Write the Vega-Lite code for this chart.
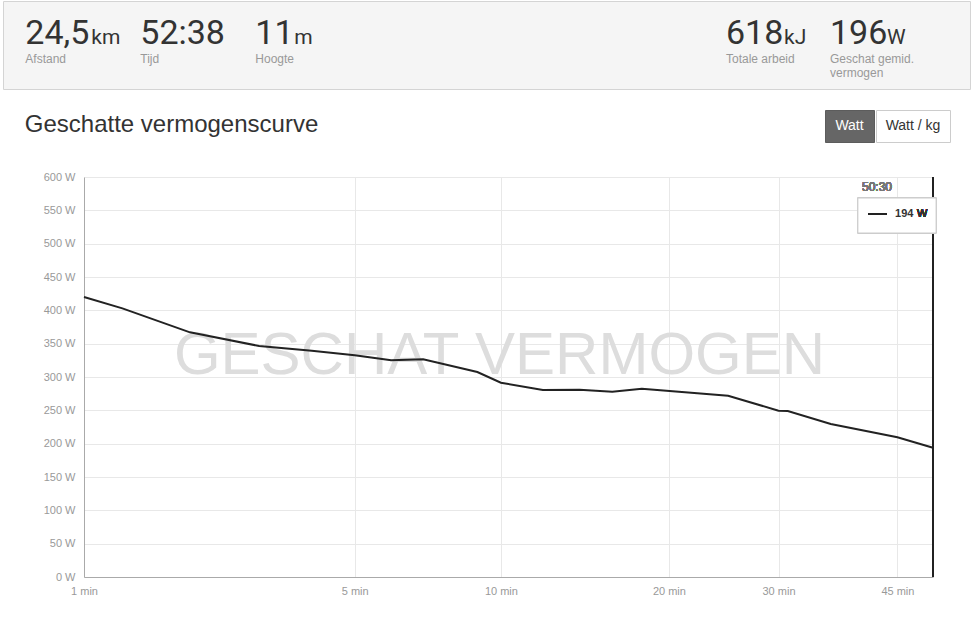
{
  "$schema": "https://vega.github.io/schema/vega-lite/v6.json",
  "padding": {"left": 2, "top": 0, "right": 0, "bottom": 0},
  "background": "#ffffff",
  "spacing": 19,
  "config": {
    "font": "Liberation Sans",
    "view": {"stroke": null},
    "text": {"font": "Liberation Sans"}
  },
  "vconcat": [
    {
      "width": 967,
      "height": 88,
      "view": {"fill": "#f5f5f5", "stroke": "#d4d4d4"},
      "data": {
        "values": [
          {"label": "Afstand", "lines": ["Afstand"], "value": "24,5", "unit": "km"},
          {"label": "Tijd", "lines": ["Tijd"], "value": "52:38", "unit": ""},
          {"label": "Hoogte", "lines": ["Hoogte"], "value": "11", "unit": "m"},
          {"label": "Totale arbeid", "lines": ["Totale arbeid"], "value": "618", "unit": "kJ"},
          {"label": "Geschat gemid. vermogen", "lines": ["Geschat gemid.", "vermogen"], "value": "196", "unit": "W"}
        ]
      },
      "resolve": {"scale": {"x": "independent"}},
      "layer": [
        {
          "transform": [{"filter": {"field": "label", "oneOf": ["Afstand", "Tijd", "Hoogte"]}}],
          "mark": {"type": "text", "align": "left", "baseline": "alphabetic", "font": "Roboto", "fontSize": 34, "color": "#333333", "dy": -1},
          "encoding": {
            "x": {"field": "label", "type": "nominal", "axis": null, "scale": {"type": "point", "domain": ["Afstand", "Tijd", "Hoogte", "l4", "l5", "l6", "l7", "l8"], "padding": 0.7043, "align": 0.13765}},
            "text": {"field": "value"}
          }
        },
        {
          "transform": [{"filter": {"field": "label", "oneOf": ["Afstand", "Tijd", "Hoogte"]}}],
          "mark": {"type": "text", "align": "left", "baseline": "alphabetic", "fontSize": 12, "color": "#999999", "dy": 18, "lineHeight": 14},
          "encoding": {
            "x": {"field": "label", "type": "nominal", "axis": null, "scale": {"type": "point", "domain": ["Afstand", "Tijd", "Hoogte", "l4", "l5", "l6", "l7", "l8"], "padding": 0.7043, "align": 0.13765}},
            "text": {"field": "lines"}
          }
        },
        {
          "transform": [{"filter": {"field": "label", "oneOf": ["Totale arbeid", "Geschat gemid. vermogen"]}}],
          "mark": {"type": "text", "align": "left", "baseline": "alphabetic", "font": "Roboto", "fontSize": 34, "color": "#333333", "dy": -1},
          "encoding": {
            "x": {"field": "label", "type": "nominal", "axis": null, "scale": {"type": "point", "domain": ["r1", "r2", "r3", "r4", "r5", "r6", "Totale arbeid", "Geschat gemid. vermogen", "r9"], "padding": 0.649, "align": 0.7333}},
            "text": {"field": "value"}
          }
        },
        {
          "transform": [{"filter": {"field": "label", "oneOf": ["Totale arbeid", "Geschat gemid. vermogen"]}}],
          "mark": {"type": "text", "align": "left", "baseline": "alphabetic", "fontSize": 12, "color": "#999999", "dy": 18, "lineHeight": 14},
          "encoding": {
            "x": {"field": "label", "type": "nominal", "axis": null, "scale": {"type": "point", "domain": ["r1", "r2", "r3", "r4", "r5", "r6", "Totale arbeid", "Geschat gemid. vermogen", "r9"], "padding": 0.649, "align": 0.7333}},
            "text": {"field": "lines"}
          }
        },
        {
          "transform": [{"filter": {"field": "label", "equal": "Afstand"}}],
          "mark": {"type": "text", "align": "left", "baseline": "alphabetic", "font": "Roboto", "fontSize": 21, "color": "#333333", "dx": 66, "dy": -1},
          "encoding": {
            "x": {"field": "label", "type": "nominal", "axis": null, "scale": {"type": "point", "domain": ["Afstand", "Tijd", "Hoogte", "l4", "l5", "l6", "l7", "l8"], "padding": 0.7043, "align": 0.13765}},
            "text": {"field": "unit"}
          }
        },
        {
          "transform": [{"filter": {"field": "label", "equal": "Hoogte"}}],
          "mark": {"type": "text", "align": "left", "baseline": "alphabetic", "font": "Roboto", "fontSize": 21, "color": "#333333", "dx": 39, "dy": -1},
          "encoding": {
            "x": {"field": "label", "type": "nominal", "axis": null, "scale": {"type": "point", "domain": ["Afstand", "Tijd", "Hoogte", "l4", "l5", "l6", "l7", "l8"], "padding": 0.7043, "align": 0.13765}},
            "text": {"field": "unit"}
          }
        },
        {
          "transform": [{"filter": {"field": "label", "equal": "Totale arbeid"}}],
          "mark": {"type": "text", "align": "left", "baseline": "alphabetic", "font": "Roboto", "fontSize": 21, "color": "#333333", "dx": 58, "dy": -1},
          "encoding": {
            "x": {"field": "label", "type": "nominal", "axis": null, "scale": {"type": "point", "domain": ["r1", "r2", "r3", "r4", "r5", "r6", "Totale arbeid", "Geschat gemid. vermogen", "r9"], "padding": 0.649, "align": 0.7333}},
            "text": {"field": "unit"}
          }
        },
        {
          "transform": [{"filter": {"field": "label", "equal": "Geschat gemid. vermogen"}}],
          "mark": {"type": "text", "align": "left", "baseline": "alphabetic", "font": "Roboto", "fontSize": 21, "color": "#333333", "dx": 57, "dy": -1},
          "encoding": {
            "x": {"field": "label", "type": "nominal", "axis": null, "scale": {"type": "point", "domain": ["r1", "r2", "r3", "r4", "r5", "r6", "Totale arbeid", "Geschat gemid. vermogen", "r9"], "padding": 0.649, "align": 0.7333}},
            "text": {"field": "unit"}
          }
        }
      ]
    },
    {
      "spacing": 484,
      "hconcat": [
        {
          "width": 337,
          "height": 42,
          "data": {"values": [{"title": "Geschatte vermogenscurve"}]},
          "mark": {"type": "text", "fontSize": 24, "color": "#333333", "baseline": "alphabetic", "dy": 1},
          "encoding": {"text": {"field": "title"}}
        },
        {
          "spacing": 0,
          "hconcat": [
            {
              "width": 49,
              "height": 32,
              "view": {"fill": "#666666", "stroke": "#5c5c5c"},
              "data": {"values": [{"button": "Watt"}]},
              "mark": {"type": "text", "fontSize": 14, "color": "#ffffff", "baseline": "middle"},
              "encoding": {"text": {"field": "button"}}
            },
            {
              "width": 74,
              "height": 32,
              "view": {"fill": "#ffffff", "stroke": "#cccccc"},
              "data": {"values": [{"button": "Watt / kg"}]},
              "mark": {"type": "text", "fontSize": 14, "color": "#333333", "baseline": "middle"},
              "encoding": {"text": {"field": "button"}}
            }
          ]
        }
      ]
    },
    {
      "spacing": 0,
      "hconcat": [
        {
          "width": 1,
          "height": 400,
          "data": {"values": [{"blank": ""}]},
          "mark": {"type": "text"},
          "encoding": {"text": {"field": "blank"}}
        },
        {
          "width": 849,
          "height": 400,
          "data": {
            "values": [
              {"t": 1, "w": 420},
              {"t": 1.3, "w": 403},
              {"t": 2, "w": 367},
              {"t": 3, "w": 346.5},
              {"t": 4, "w": 339.5},
              {"t": 5, "w": 332.5},
              {"t": 6, "w": 325},
              {"t": 7, "w": 326.5},
              {"t": 9, "w": 307.5},
              {"t": 10, "w": 291.5},
              {"t": 12, "w": 280.5},
              {"t": 14, "w": 281},
              {"t": 16, "w": 278},
              {"t": 18, "w": 282.5},
              {"t": 25, "w": 272},
              {"t": 30, "w": 249.5},
              {"t": 31, "w": 249},
              {"t": 36, "w": 229.5},
              {"t": 45, "w": 209.5},
              {"t": 50.5, "w": 194}
            ]
          },
          "encoding": {
            "x": {
              "field": "t",
              "type": "quantitative",
              "scale": {"type": "pow", "exponent": 0.2, "domain": [1, 50.5], "nice": false, "zero": false},
              "axis": {
                "values": [1, 5, 10, 20, 30, 45],
                "labelExpr": "datum.value + ' min'",
                "title": null,
                "grid": true,
                "gridColor": "#e8e8e8",
                "domainColor": "#aaaaaa",
                "ticks": false,
                "labelColor": "#999999",
                "labelFontSize": 11,
                "labelPadding": 8,
                "labelFlush": false
              }
            },
            "y": {
              "field": "w",
              "type": "quantitative",
              "scale": {"domain": [0, 600], "nice": false},
              "axis": {
                "values": [0, 50, 100, 150, 200, 250, 300, 350, 400, 450, 500, 550, 600],
                "labelExpr": "datum.value + ' W'",
                "title": null,
                "grid": true,
                "gridColor": "#e8e8e8",
                "domainColor": "#aaaaaa",
                "ticks": false,
                "labelColor": "#999999",
                "labelFontSize": 11,
                "labelPadding": 9,
                "minExtent": 80,
                "maxExtent": 80
              }
            }
          },
          "layer": [
            {
              "data": {"values": [{"wm": "GESCHAT VERMOGEN"}]},
              "mark": {"type": "text", "fontSize": 60, "color": "#dddddd", "baseline": "middle", "dx": -9, "dy": -21},
              "encoding": {"x": null, "y": null, "text": {"field": "wm"}}
            },
            {
              "mark": {"type": "line", "color": "#222222", "strokeWidth": 2}
            },
            {
              "mark": {"type": "rule", "color": "#222222", "strokeWidth": 1.5},
              "encoding": {"x": {"datum": 50.5}, "y": null}
            },
            {
              "mark": {"type": "text", "align": "right", "baseline": "middle", "fontSize": 12, "color": "#777777", "dx": -41},
              "encoding": {"x": {"datum": 50.5}, "y": {"datum": 585}, "text": {"value": "50:30"}}
            },
            {
              "mark": {"type": "rect", "fill": "#ffffff", "stroke": "#cccccc", "strokeWidth": 1},
              "encoding": {"x": {"datum": 39.47}, "x2": {"datum": 51.0}, "y": {"datum": 568.5}, "y2": {"datum": 516}}
            },
            {
              "mark": {"type": "rule", "color": "#222222", "strokeWidth": 2},
              "encoding": {"x": {"datum": 40.93}, "x2": {"datum": 43.47}, "y": {"datum": 544.5}}
            },
            {
              "transform": [{"filter": "datum.t == 50.5"}],
              "mark": {"type": "text", "align": "left", "baseline": "middle", "fontSize": 11, "fontWeight": "bold", "color": "#333333"},
              "encoding": {"x": {"datum": 44.65}, "y": {"datum": 544.5}, "text": {"field": "w"}}
            },
            {
              "mark": {"type": "text", "align": "left", "baseline": "middle", "fontSize": 11, "color": "#333333", "dx": 22},
              "encoding": {"x": {"datum": 44.65}, "y": {"datum": 544.5}, "text": {"value": "W"}}
            }
          ]
        }
      ]
    }
  ]
}
